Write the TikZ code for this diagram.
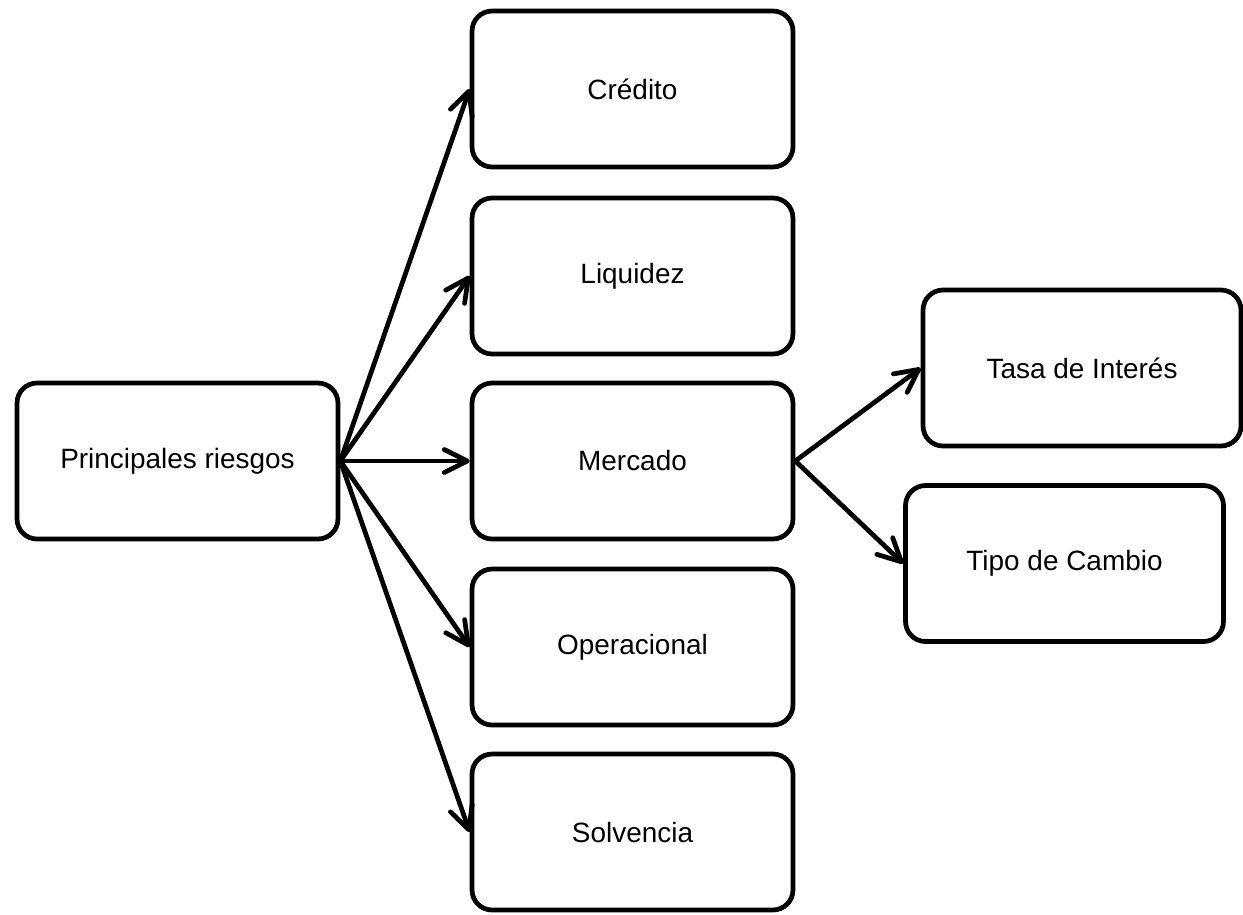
\documentclass[tikz,border=0pt]{standalone}
\usepackage{fontspec}
\setmainfont{Liberation Sans}
\usetikzlibrary{arrows.meta}

\begin{document}
\begin{tikzpicture}[x=0.02cm, y=-0.02cm,
  box/.style={draw=black, line width=2.7pt, rounded corners=0.4cm, align=center,
              minimum width=6.42cm, minimum height=3.12cm, inner sep=2pt,
              font=\fontsize{15.9}{19}\selectfont},
  arr/.style={-{Straight Barb[length=4.6mm, width=4.6mm, line cap=round, line join=round]},
              line width=2.7pt}
]
\useasboundingbox (0,0) rectangle (1243,914);
\node[box] (riesgos) at (177.5,461) {Principales riesgos};
\node[box] (credito) at (632.5,89) {Crédito};
\node[box] (liquidez) at (632.5,276) {Liquidez};
\node[box] (mercado) at (632.5,461) {Mercado};
\node[box] (operacional) at (632.5,647) {Operacional};
\node[box] (solvencia) at (632.5,832) {Solvencia};
\node[box, minimum width=6.36cm] (tasa) at (1082,368) {Tasa de Interés};
\node[box, minimum width=6.36cm] (cambio) at (1064.5,563.5) {Tipo de Cambio};
\foreach \b in {credito, liquidez, mercado, operacional, solvencia}
  \draw[arr] (riesgos.east) -- (\b.west);
\foreach \b in {tasa, cambio}
  \draw[arr] (mercado.east) -- (\b.west);
\end{tikzpicture}
\end{document}
